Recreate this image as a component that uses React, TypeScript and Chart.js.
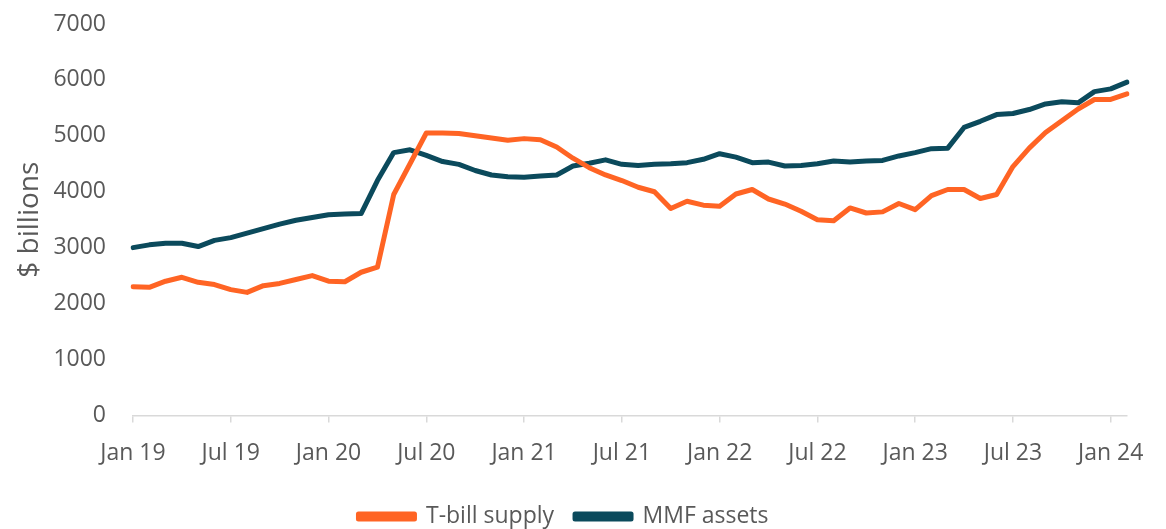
import React, { useEffect, useRef } from "react";
import { Chart, registerables } from "chart.js";

Chart.register(...registerables);

const months: string[] = [
  "Jan 19", "Feb 19", "Mar 19", "Apr 19", "May 19", "Jun 19", "Jul 19", "Aug 19", "Sep 19", "Oct 19", "Nov 19", "Dec 19",
  "Jan 20", "Feb 20", "Mar 20", "Apr 20", "May 20", "Jun 20", "Jul 20", "Aug 20", "Sep 20", "Oct 20", "Nov 20", "Dec 20",
  "Jan 21", "Feb 21", "Mar 21", "Apr 21", "May 21", "Jun 21", "Jul 21", "Aug 21", "Sep 21", "Oct 21", "Nov 21", "Dec 21",
  "Jan 22", "Feb 22", "Mar 22", "Apr 22", "May 22", "Jun 22", "Jul 22", "Aug 22", "Sep 22", "Oct 22", "Nov 22", "Dec 22",
  "Jan 23", "Feb 23", "Mar 23", "Apr 23", "May 23", "Jun 23", "Jul 23", "Aug 23", "Sep 23", "Oct 23", "Nov 23", "Dec 23",
  "Jan 24", "Feb 24",
];

const tbillSupply: number[] = [
  2300, 2290, 2400, 2470, 2380, 2340, 2250, 2200, 2320, 2360, 2430, 2500,
  2400, 2390, 2560, 2650, 3950, 4500, 5050, 5050, 5040, 5000, 4960, 4920,
  4950, 4930, 4800, 4600, 4430, 4300, 4200, 4080, 4000, 3700, 3830, 3760,
  3740, 3960, 4040, 3870, 3780, 3650, 3500, 3480, 3710, 3620, 3640, 3790,
  3680, 3930, 4040, 4040, 3880, 3950, 4450, 4780, 5060, 5270, 5480, 5650,
  5650, 5750,
];

const mmfAssets: number[] = [
  3000, 3050, 3080, 3080, 3020, 3130, 3180, 3260, 3340, 3420, 3490, 3540,
  3590, 3600, 3610, 4200, 4700, 4750, 4650, 4540, 4490, 4380, 4300, 4270,
  4260, 4280, 4300, 4460, 4510, 4570, 4490, 4470, 4490, 4500, 4520, 4580,
  4680, 4620, 4520, 4530, 4460, 4470, 4500, 4550, 4530, 4550, 4560, 4640,
  4700, 4770, 4780, 5150, 5260, 5380, 5400, 5470, 5570, 5610, 5590, 5790,
  5840, 5960,
];

const seriesNames: string[] = ["T-bill supply", "MMF assets"];
const seriesColors: string[] = ["#FF6424", "#0B4A5C"];

const FONT = "'Open Sans', sans-serif";
const TEXT = "#595959";

export default function App() {
  const ref = useRef<HTMLCanvasElement | null>(null);

  useEffect(() => {
    if (!ref.current) return;
    const chart = new Chart(ref.current, {
      type: "line",
      data: {
        labels: months,
        datasets: [
          {
            label: seriesNames[0],
            data: tbillSupply,
            borderColor: seriesColors[0],
            backgroundColor: seriesColors[0],
            borderWidth: 5,
            pointRadius: 0,
            tension: 0,
            borderCapStyle: "round",
            borderJoinStyle: "round",
          },
          {
            label: seriesNames[1],
            data: mmfAssets,
            borderColor: seriesColors[1],
            backgroundColor: seriesColors[1],
            borderWidth: 5,
            pointRadius: 0,
            tension: 0,
            borderCapStyle: "round",
            borderJoinStyle: "round",
          },
        ],
      },
      options: {
        responsive: false,
        animation: false,
        layout: { padding: { top: 24, right: 39, bottom: -9, left: 0 } },
        plugins: {
          tooltip: { enabled: false },
          legend: {
            position: "bottom",
            labels: {
              boxWidth: 56,
              boxHeight: 5,
              padding: 21,
              color: TEXT,
              font: { family: FONT, size: 23 },
            },
          },
        },
        scales: {
          x: {
            type: "category",
            offset: false,
            afterFit: (scale: any) => {
              scale.paddingTop = 0;
            },
            grid: {
              display: true,
              drawOnChartArea: false,
              drawTicks: true,
              tickLength: 7,
              color: (ctx: any) => (ctx.index % 6 === 0 ? "#D9D9D9" : "rgba(0,0,0,0)"),
              lineWidth: 1.5,
            },
            border: { display: true, color: "#D9D9D9", width: 1.5 },
            ticks: {
              autoSkip: false,
              maxRotation: 0,
              minRotation: 0,
              padding: 17,
              color: TEXT,
              font: { family: FONT, size: 23 },
              callback: (_v: any, i: number) => (i % 6 === 0 ? months[i] : ""),
            },
          },
          y: {
            min: 0,
            max: 7000,
            afterFit: (scale: any) => {
              scale.width = 133;
              scale.paddingTop = 0;
              scale.paddingBottom = 0;
            },
            grid: { display: false, drawTicks: false },
            border: { display: false },
            ticks: {
              stepSize: 1000,
              padding: 27,
              color: TEXT,
              font: { family: FONT, size: 23 },
              callback: (v: any) => String(v),
            },
            title: {
              display: true,
              text: "$ billions",
              color: TEXT,
              font: { family: FONT, size: 28 },
              padding: { top: 13, bottom: 0 },
            },
          },
        },
      },
    });
    return () => chart.destroy();
  }, []);

  return (
    <div style={{ position: "absolute", left: 0, top: 0, width: 1166, height: 529, background: "#fff" }}>
      <canvas ref={ref} width={1166} height={529} style={{ display: "block" }} />
    </div>
  );
}
